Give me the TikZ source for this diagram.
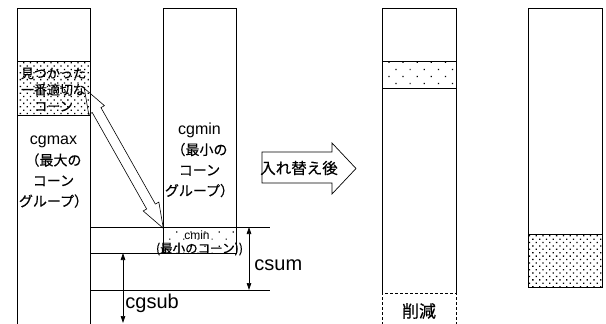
\documentclass[tikz,border=0pt]{standalone}
\usepackage{fontspec}
\setmainfont{Liberation Sans}
\newfontfamily\jp[FakeBold=0.4]{Noto Sans CJK JP}
\usetikzlibrary{patterns.meta,arrows.meta}
\begin{document}
\begin{tikzpicture}[x=1pt,y=-1pt,line width=0.8pt,
  lbl/.style={align=center,inner sep=0pt},
  collbl/.style={lbl,font=\fontsize{16}{20.5}\selectfont},
  dimarrow/.style={{Triangle[length=7pt,width=4.5pt]}-{Triangle[length=7pt,width=4.5pt]},line width=0.7pt},
  dense/.style={pattern={Dots[distance=4.8pt,angle=45,radius=0.9pt]},pattern color=black},
  sparse/.style={pattern={Dots[distance=10pt,angle=45,radius=0.85pt]},pattern color=black},
  cutbox/.style={dash pattern=on 3pt off 2pt,line width=0.7pt}]
\useasboundingbox (0,0) rectangle (606,324);
\fill[white] (0,0) rectangle (606,324);

% column 1 (cgmax)
\path[dense] (17,61) rectangle (90,115);
\draw (17,330) -- (17,8) -- (90,8) -- (90,330);
\draw (17,61) -- (90,61) (17,115) -- (90,115);
\node[lbl,font=\jp\fontsize{13}{16.5}\selectfont] (found) at (53.5,89.5) {見つかった\\一番適切な\\コーン};
\node[collbl] (cgmax) at (53.5,172) {cgmax\\{\jp\fontsize{14}{20.5}\selectfont （最大の}\\{\jp\fontsize{14}{20.5}\selectfont コーン}\\{\jp\fontsize{14}{20.5}\selectfont グループ）}};

% column 2 (cgmin)
\path[sparse] (163,227) rectangle (236,253);
\draw (163,8) rectangle (236,253);
\node[collbl] (cgmin) at (199.5,160) {cgmin\\{\jp\fontsize{14}{20.5}\selectfont （最小の}\\{\jp\fontsize{14}{20.5}\selectfont コーン}\\{\jp\fontsize{14}{20.5}\selectfont グループ）}};
\node[lbl,font=\fontsize{12}{13}\selectfont] (cmin) at (197,235) {cmin};
\node[lbl,font=\jp\fontsize{12.5}{13}\selectfont] (cminjp) at (199.5,249) {(最小のコーン))};

% horizontal guide lines
\draw (90,227) -- (270,227);
\draw (90,253) -- (236,253);
\draw (90,290) -- (270,290);

% dimension arrows
\coordinate (cs1) at (249,227);
\coordinate (cs2) at (249,290);
\draw[dimarrow] (cs1) -- (cs2);
\node[lbl,font=\fontsize{20}{22}\selectfont,anchor=west] (csum) at (254,265) {csum};
\coordinate (cg1) at (123,253);
\coordinate (cg2) at (123,323);
\draw[dimarrow] (cg1) -- (cg2);
\node[lbl,font=\fontsize{20}{22}\selectfont,anchor=west] (cgsub) at (125,303) {cgsub};

% double hollow arrow (swap)
\draw[line width=0.6pt] (84.3,88.3) -- (104.43,105.65) -- (100.94,107.61) -- (155.36,204.07) -- (158.85,202.11)
  -- (163.3,228.3) -- (143.17,210.95) -- (146.66,208.99) -- (92.24,112.53) -- (88.75,114.49) -- cycle;

% block arrow
\draw[line width=0.7pt] (262,152) -- (332,152) -- (332,143) -- (356,168.5) -- (332,194) -- (332,183) -- (262,183) -- cycle;
\node[lbl,font=\jp\fontsize{15.5}{17}\selectfont] (after) at (299,168) {入れ替え後};

% column 3 (after swap)
\path[sparse] (382,61) rectangle (456,88);
\draw (382,293) -- (382,8) -- (456,8) -- (456,293);
\draw (382,61) -- (456,61) (382,88) -- (456,88);
\draw[cutbox] (382,330) -- (382,293) -- (456,293) -- (456,330);
\node[lbl,font=\jp\fontsize{17}{19}\selectfont] (cut) at (419,311) {削減};

% column 4
\path[dense] (528,234) rectangle (602,287);
\draw (528,8) rectangle (602,287);
\draw (528,234) -- (602,234);
\end{tikzpicture}
\end{document}
